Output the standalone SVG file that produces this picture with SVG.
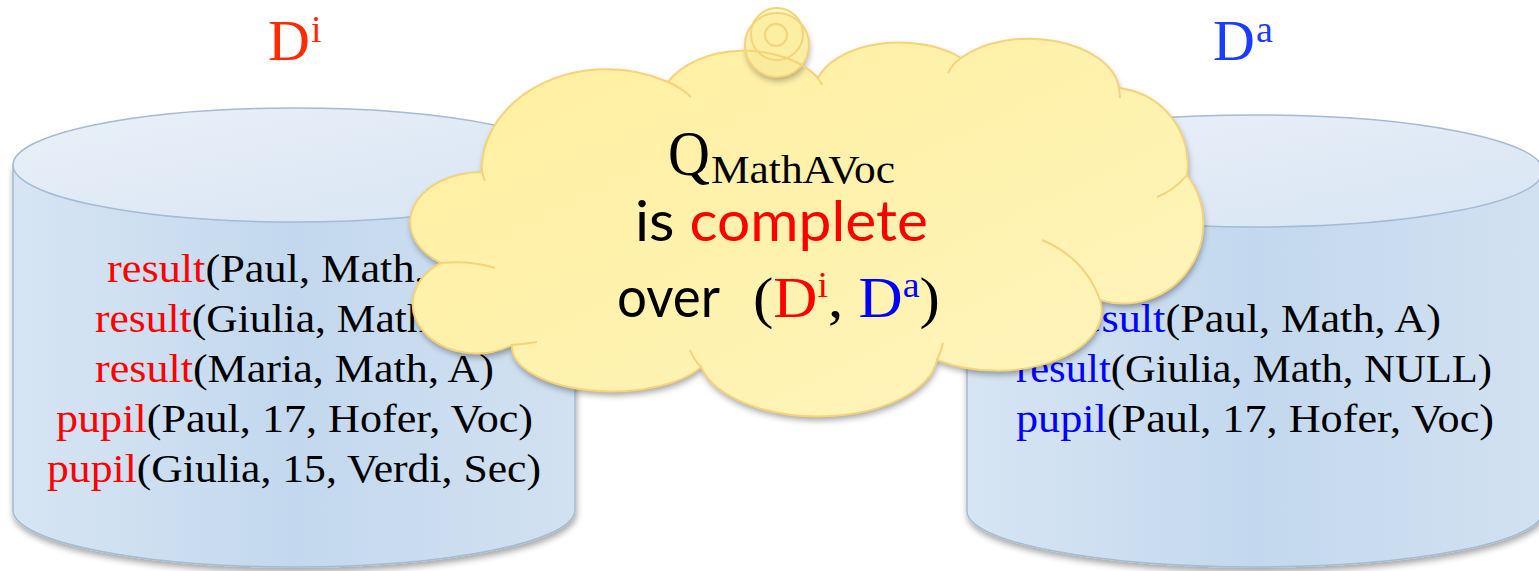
<svg xmlns="http://www.w3.org/2000/svg" width="1539" height="571" viewBox="0 0 1539 571">
<style>
.db{font-family:"Liberation Serif","DejaVu Serif",serif;font-size:41px;fill:#000}
.r{fill:#FF0000}
.b{fill:#0000FF}
.cyl-stroke{stroke:#A3BBD3;stroke-width:1.5}
.cl-stroke{fill:none;stroke:#F6D27A;stroke-width:2}
.lbl{font-family:"Liberation Serif","DejaVu Serif",serif}
.sans{font-family:Lato,"Open Sans",sans-serif;font-size:56px}
.ser{font-family:"Liberation Serif","DejaVu Serif",serif}
</style>
<defs>
<linearGradient id="body" x1="0" y1="0" x2="1" y2="0">
<stop offset="0" stop-color="#D7E5F3"/>
<stop offset="0.5" stop-color="#C3D8EE"/>
<stop offset="1" stop-color="#D2E1F1"/>
</linearGradient>
<linearGradient id="top" x1="0" y1="0" x2="1" y2="1">
<stop offset="0" stop-color="#E9F0F9"/>
<stop offset="1" stop-color="#D8E5F3"/>
</linearGradient>
<linearGradient id="cloudfill" x1="0" y1="0" x2="1" y2="1">
<stop offset="0" stop-color="#FFEF9E"/>
<stop offset="1" stop-color="#FFF5BE"/>
</linearGradient>
<filter id="shadow" x="-10%" y="-10%" width="120%" height="125%">
<feDropShadow dx="1" dy="4" stdDeviation="3" flood-color="#000" flood-opacity="0.35"/>
</filter>
<path id="cloudpath" d="M482,172 A125,100 0 0 1 668,82 A85,55 0 0 1 818,78 A85,50 0 0 1 961,58 A90,55 0 0 1 1119,88 A77,77 0 0 1 1187,175 A80,80 0 0 1 1100,300 A105,60 0 0 1 937,360 A120,64 0 0 1 701,367 A100,45 0 0 1 512,345 A62,48 0 0 1 441,263 A72,50 0 0 1 482,172 Z"/>
</defs>
<g id="connectors"/>
<g id="cyl-left">
<path d="M13,165 V510 A281,57 0 0 0 575,510 V165 Z" fill="url(#body)" class="cyl-stroke" filter="url(#shadow)"/>
<ellipse cx="294" cy="165" rx="281" ry="57" fill="url(#top)" class="cyl-stroke"/>
<text class="db" x="107" y="282" textLength="374" lengthAdjust="spacingAndGlyphs"><tspan class="r">result</tspan>(Paul, Math, A)</text>
<text class="db" x="95" y="332" textLength="399" lengthAdjust="spacingAndGlyphs"><tspan class="r">result</tspan>(Giulia, Math, A)</text>
<text class="db" x="95" y="382" textLength="399" lengthAdjust="spacingAndGlyphs"><tspan class="r">result</tspan>(Maria, Math, A)</text>
<text class="db" x="56" y="432" textLength="477" lengthAdjust="spacingAndGlyphs"><tspan class="r">pupil</tspan>(Paul, 17, Hofer, Voc)</text>
<text class="db" x="47" y="482" textLength="494" lengthAdjust="spacingAndGlyphs"><tspan class="r">pupil</tspan>(Giulia, 15, Verdi, Sec)</text>
</g>
<g id="cyl-right">
<path d="M967,171 V511 A288,56 0 0 0 1543,511 V171 Z" fill="url(#body)" class="cyl-stroke" filter="url(#shadow)"/>
<ellipse cx="1255" cy="171" rx="288" ry="56" fill="url(#top)" class="cyl-stroke"/>
<text class="db" x="1067" y="332" textLength="374" lengthAdjust="spacingAndGlyphs"><tspan class="b">result</tspan>(Paul, Math, A)</text>
<text class="db" x="1016" y="382" textLength="476" lengthAdjust="spacingAndGlyphs"><tspan class="b">result</tspan>(Giulia, Math, NULL)</text>
<text class="db" x="1016" y="432" textLength="478" lengthAdjust="spacingAndGlyphs"><tspan class="b">pupil</tspan>(Paul, 17, Hofer, Voc)</text>
</g>
<g id="label-di" fill="#FF2B00">
<text class="lbl" x="268" y="60" font-size="58">D</text>
<text class="lbl" x="311" y="42" font-size="38">i</text>
</g>
<g id="label-da" fill="#1A3CFF">
<text class="lbl" x="1213" y="60" font-size="58">D</text>
<text class="lbl" x="1256" y="42" font-size="38">a</text>
</g>
<g id="cloud">
<use href="#cloudpath" fill="url(#cloudfill)" filter="url(#shadow)"/>
<circle cx="777" cy="45" r="32" fill="#FFF09F" fill-opacity="0.85" filter="url(#shadow)"/>
<circle cx="777" cy="34" r="26" fill="#FFF09F" fill-opacity="0.6"/>
<use href="#cloudpath" class="cl-stroke"/>
<path class="cl-stroke" d="M482,172 Q483,176 485,181 M441,263 Q470,260 495,268 M512,345 Q525,344 537,342 M701,367 Q694,360 690,350 M937,360 Q941,352 943,343 M1100,300 Q1085,258 1042,240 M1187,175 Q1175,190 1157,197 M1119,88 L1120,98 M961,58 Q952,64 948,73 M818,78 L822,85 M668,82 Q682,88 691,97"/>
<circle cx="777" cy="45" r="32" class="cl-stroke"/>
<circle cx="777" cy="34" r="26" class="cl-stroke"/>
<circle cx="776" cy="35" r="11" class="cl-stroke"/>
<text class="ser" x="668" y="175" font-size="63" fill="#000" textLength="42" lengthAdjust="spacingAndGlyphs">Q</text>
<text class="ser" x="711" y="183" font-size="40" fill="#000" textLength="184" lengthAdjust="spacingAndGlyphs">MathAVoc</text>
<text class="sans" x="635" y="241" fill="#000" textLength="293" lengthAdjust="spacingAndGlyphs">is <tspan class="r">complete</tspan></text>
<text class="sans" x="617" y="317" fill="#000" textLength="103" lengthAdjust="spacingAndGlyphs">over</text>
<text class="ser" x="753" y="317" font-size="58" fill="#000" textLength="187" lengthAdjust="spacingAndGlyphs">(<tspan class="r">D</tspan><tspan class="r" font-size="36" dy="-20">i</tspan><tspan dy="20">, </tspan><tspan class="b">D</tspan><tspan class="b" font-size="36" dy="-20">a</tspan><tspan dy="20">)</tspan></text>
</g>
</svg>
